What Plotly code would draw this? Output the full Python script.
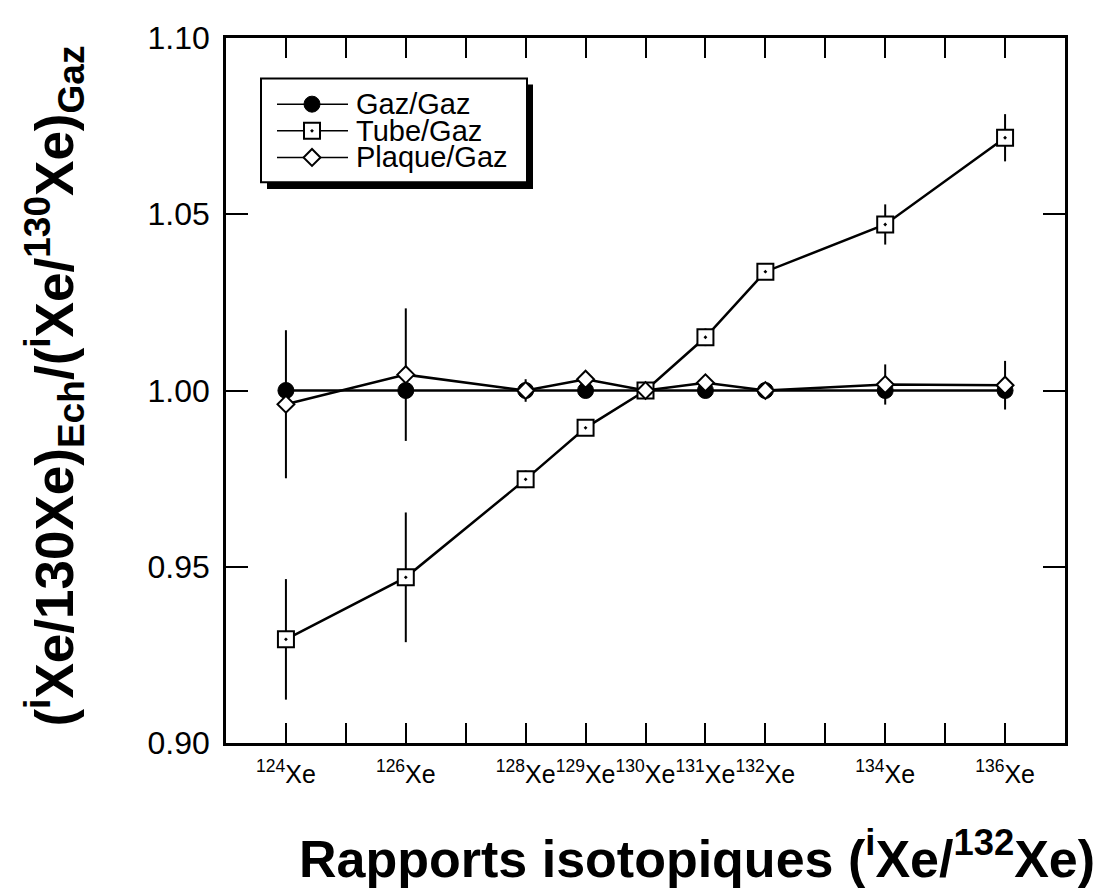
import plotly.graph_objects as go

masses = [124, 126, 128, 129, 130, 131, 132, 134, 136]
tick_masses = list(range(124, 137))
tick_labels = ["<sup>124</sup>Xe", "", "<sup>126</sup>Xe", "", "<sup>128</sup>Xe", "<sup>129</sup>Xe",
               "<sup>130</sup>Xe", "<sup>131</sup>Xe", "<sup>132</sup>Xe", "", "<sup>134</sup>Xe", "",
               "<sup>136</sup>Xe"]

gaz_gaz = [1.000, 1.000, 1.000, 1.000, 1.000, 1.000, 1.000, 1.000, 1.000]
tube_gaz = [0.9294, 0.9470, 0.9748, 0.9894, 1.000, 1.0151, 1.0337, 1.0471, 1.0717]
tube_err = [0.0171, 0.0184, 0.0025, 0.0010, 0.0, 0.0025, 0.0010, 0.0057, 0.0067]
plaque_gaz = [0.9961, 1.0045, 1.000, 1.0032, 1.000, 1.0022, 1.000, 1.0017, 1.0015]
plaque_err = [0.0210, 0.0188, 0.0032, 0.0010, 0.0, 0.0010, 0.0010, 0.0057, 0.0069]

series_names = ["Gaz/Gaz", "Tube/Gaz", "Plaque/Gaz"]

FONT = "Liberation Sans, Arial, Helvetica, sans-serif"

# plot area in screenshot pixels (page has an 8px body margin)
PX0, PX1, PY0, PY1 = 226, 1065, 29, 743
PW, PH = PX1 - PX0, PY1 - PY0


def px(X):
    return (X - PX0) / PW


def py(Y):
    return (PY1 - Y) / PH


styles = [
    dict(symbol="circle", size=16, color="black", line=dict(color="black", width=1)),
    dict(symbol="square-dot", size=16, color="white", line=dict(color="black", width=2)),
    dict(symbol="diamond", size=13, color="white", line=dict(color="black", width=2)),
]

fig = go.Figure()
fig.add_trace(go.Scatter(
    x=masses, y=gaz_gaz, name=series_names[0], mode="lines+markers",
    line=dict(color="black", width=2.5), marker=styles[0],
))
fig.add_trace(go.Scatter(
    x=masses, y=tube_gaz, name=series_names[1], mode="lines+markers",
    line=dict(color="black", width=2.5), marker=styles[1],
    error_y=dict(type="data", array=tube_err, color="black", thickness=2, width=0),
))
fig.add_trace(go.Scatter(
    x=masses, y=plaque_gaz, name=series_names[2], mode="lines+markers",
    line=dict(color="black", width=2.5), marker=styles[2],
    error_y=dict(type="data", array=plaque_err, color="black", thickness=2, width=0),
))

# ---- hand-drawn legend (box with drop shadow) ----
fig.add_shape(type="rect", xref="paper", yref="paper", layer="below",
              x0=px(267), x1=px(533), y0=py(182), y1=py(76),
              fillcolor="black", line=dict(width=0))
fig.add_shape(type="rect", xref="paper", yref="paper", layer="below",
              x0=px(261), x1=px(527), y0=py(175), y1=py(70),
              fillcolor="white", line=dict(color="black", width=2))
leg_rows = [96, 123, 150]
for name, sty, Y in zip(series_names, styles, leg_rows):
    fig.add_shape(type="line", xref="paper", yref="paper", layer="below",
                  x0=px(277), x1=px(348), y0=py(Y), y1=py(Y),
                  line=dict(color="black", width=1.5))
    fig.add_trace(go.Scatter(
        x=[px(312)], y=[py(Y)], xaxis="x2", yaxis="y2", mode="markers",
        marker=sty, showlegend=False, hoverinfo="skip", cliponaxis=False,
    ))
    fig.add_annotation(text=name, xref="paper", yref="paper", x=px(355), y=py(Y),
                       xanchor="left", yanchor="middle", showarrow=False, borderpad=0,
                       font=dict(family=FONT, size=29, color="black"))

fig.update_layout(
    width=1106, height=893,
    margin=dict(l=PX0 - 8, r=1106 - (PX1 - 8), t=PY0 - 8, b=893 - (PY1 - 8)),
    plot_bgcolor="white", paper_bgcolor="white",
    font=dict(family=FONT, color="black", size=20),
    showlegend=False,
    xaxis=dict(
        range=[123, 137], tickmode="array", tickvals=tick_masses, ticktext=tick_labels,
        ticks="inside", ticklen=20, tickwidth=2, tickcolor="black", tickangle=0,
        showline=True, linecolor="black", linewidth=2.5, mirror="ticks",
        showgrid=False, zeroline=False,
        tickfont=dict(family=FONT, size=25, color="black"),
        ticklabelstandoff=7,
    ),
    yaxis=dict(
        range=[0.90, 1.10], tickmode="array", tickvals=[0.90, 0.95, 1.00, 1.05, 1.10],
        ticktext=["0.90", "0.95", "1.00", "1.05", "1.10"],
        ticks="inside", ticklen=22, tickwidth=2, tickcolor="black",
        showline=True, linecolor="black", linewidth=2.5, mirror="ticks",
        showgrid=False, zeroline=False,
        tickfont=dict(family=FONT, size=32, color="black"),
        ticklabelstandoff=7,
    ),
    xaxis2=dict(range=[0, 1], overlaying="x", visible=False, fixedrange=True),
    yaxis2=dict(range=[0, 1], overlaying="y", visible=False, fixedrange=True),
)

fig.add_annotation(
    text="<b>Rapports isotopiques (<sup>i</sup>Xe/<sup>132</sup>Xe)</b>",
    xref="paper", yref="paper", x=px(1097), y=py(856),
    xanchor="right", yanchor="middle", showarrow=False,
    font=dict(family=FONT, size=52, color="black"),
)
fig.add_annotation(
    text="<b>(<sup>i</sup>Xe/130Xe)<sub>Ech</sub>/(<sup>i</sup>Xe/<sup>130</sup>Xe)<sub>Gaz</sub></b>",
    xref="paper", yref="paper", x=px(54), y=py(382),
    xanchor="center", yanchor="middle", textangle=-90, showarrow=False,
    font=dict(family=FONT, size=53, color="black"),
)

fig.write_html("out.html")
